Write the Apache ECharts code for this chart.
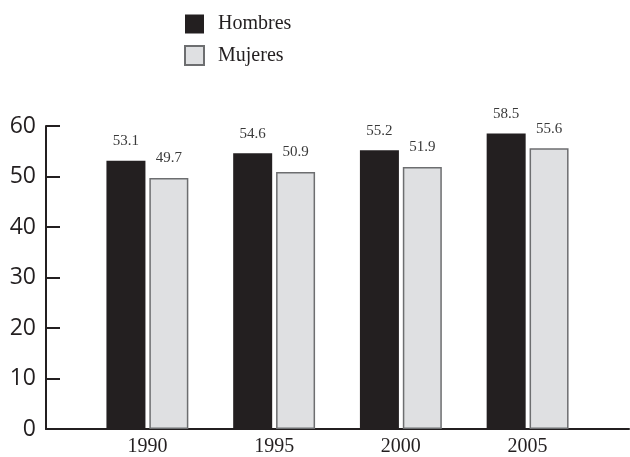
<!DOCTYPE html>
<html>
<head>
<meta charset="utf-8">
<script src="https://cdn.jsdelivr.net/npm/echarts@6/dist/echarts.min.js"></script>
<style>
  html, body { margin: 0; padding: 0; background: #fff; }
  #main { width: 630px; height: 457px; }
</style>
</head>
<body>
<div id="main"></div>
<script>
// data
var years = [1990, 1995, 2000, 2005];
var hombres = [53.1, 54.6, 55.2, 58.5];
var mujeres = [49.7, 50.9, 51.9, 55.6];
var seriesNames = ['Hombres', 'Mujeres'];

var ink = '#231f20';
var serif = '"Liberation Serif", "Times New Roman", serif';

function pairs(vals) {
    return years.map(function (y, i) { return [y, vals[i]]; });
}

var chart = echarts.init(document.getElementById('main'));
var option = {
    backgroundColor: '#fff',
    animation: false,
    legend: {
        orient: 'vertical',
        left: 184,
        top: 14,
        padding: 0,
        itemWidth: 19,
        itemHeight: 19,
        itemGap: 11,
        icon: 'rect',
        data: seriesNames,
        textStyle: {
            fontFamily: serif,
            fontSize: 20,
            color: ink,
            padding: [0, 0, 7, 9]
        }
    },
    grid: { left: 46, right: 1, top: 126, bottom: 26 },
    xAxis: {
        type: 'value',
        min: 1986,
        max: 2009,
        splitLine: { show: false },
        axisTick: { show: false },
        axisLine: { show: true, lineStyle: { color: ink, width: 2 } },
        axisLabel: {
            customValues: years,
            formatter: function (v) { return String(v); },
            fontFamily: serif,
            fontSize: 20,
            color: ink,
            margin: 8
        }
    },
    yAxis: {
        type: 'value',
        min: 0,
        max: 60,
        interval: 10,
        splitLine: { show: false },
        axisLine: { show: true, lineStyle: { color: ink, width: 2 } },
        axisTick: { show: true, inside: true, length: 14, lineStyle: { color: ink, width: 2 } },
        axisLabel: {
            fontFamily: '"Open Sans", sans-serif',
            fontSize: 23,
            color: ink,
            margin: 10
        }
    },
    series: [
        {
            name: seriesNames[0],
            type: 'bar',
            barWidth: 39,
            barGap: '10%',
            data: pairs(hombres),
            itemStyle: { color: ink },
            label: {
                show: true,
                position: 'top',
                distance: 12,
                fontFamily: serif,
                fontSize: 15,
                color: '#3a3a3a',
                formatter: function (p) { return p.value[1].toFixed(1); }
            }
        },
        {
            name: seriesNames[1],
            type: 'bar',
            barWidth: 39,
            barGap: '10%',
            data: pairs(mujeres),
            itemStyle: { color: '#dfe0e2', borderColor: '#6d6e70', borderWidth: 1.5 },
            label: {
                show: true,
                position: 'top',
                distance: 12,
                fontFamily: serif,
                fontSize: 15,
                color: '#3a3a3a',
                formatter: function (p) { return p.value[1].toFixed(1); }
            }
        }
    ]
};
chart.setOption(option);
</script>
</body>
</html>
